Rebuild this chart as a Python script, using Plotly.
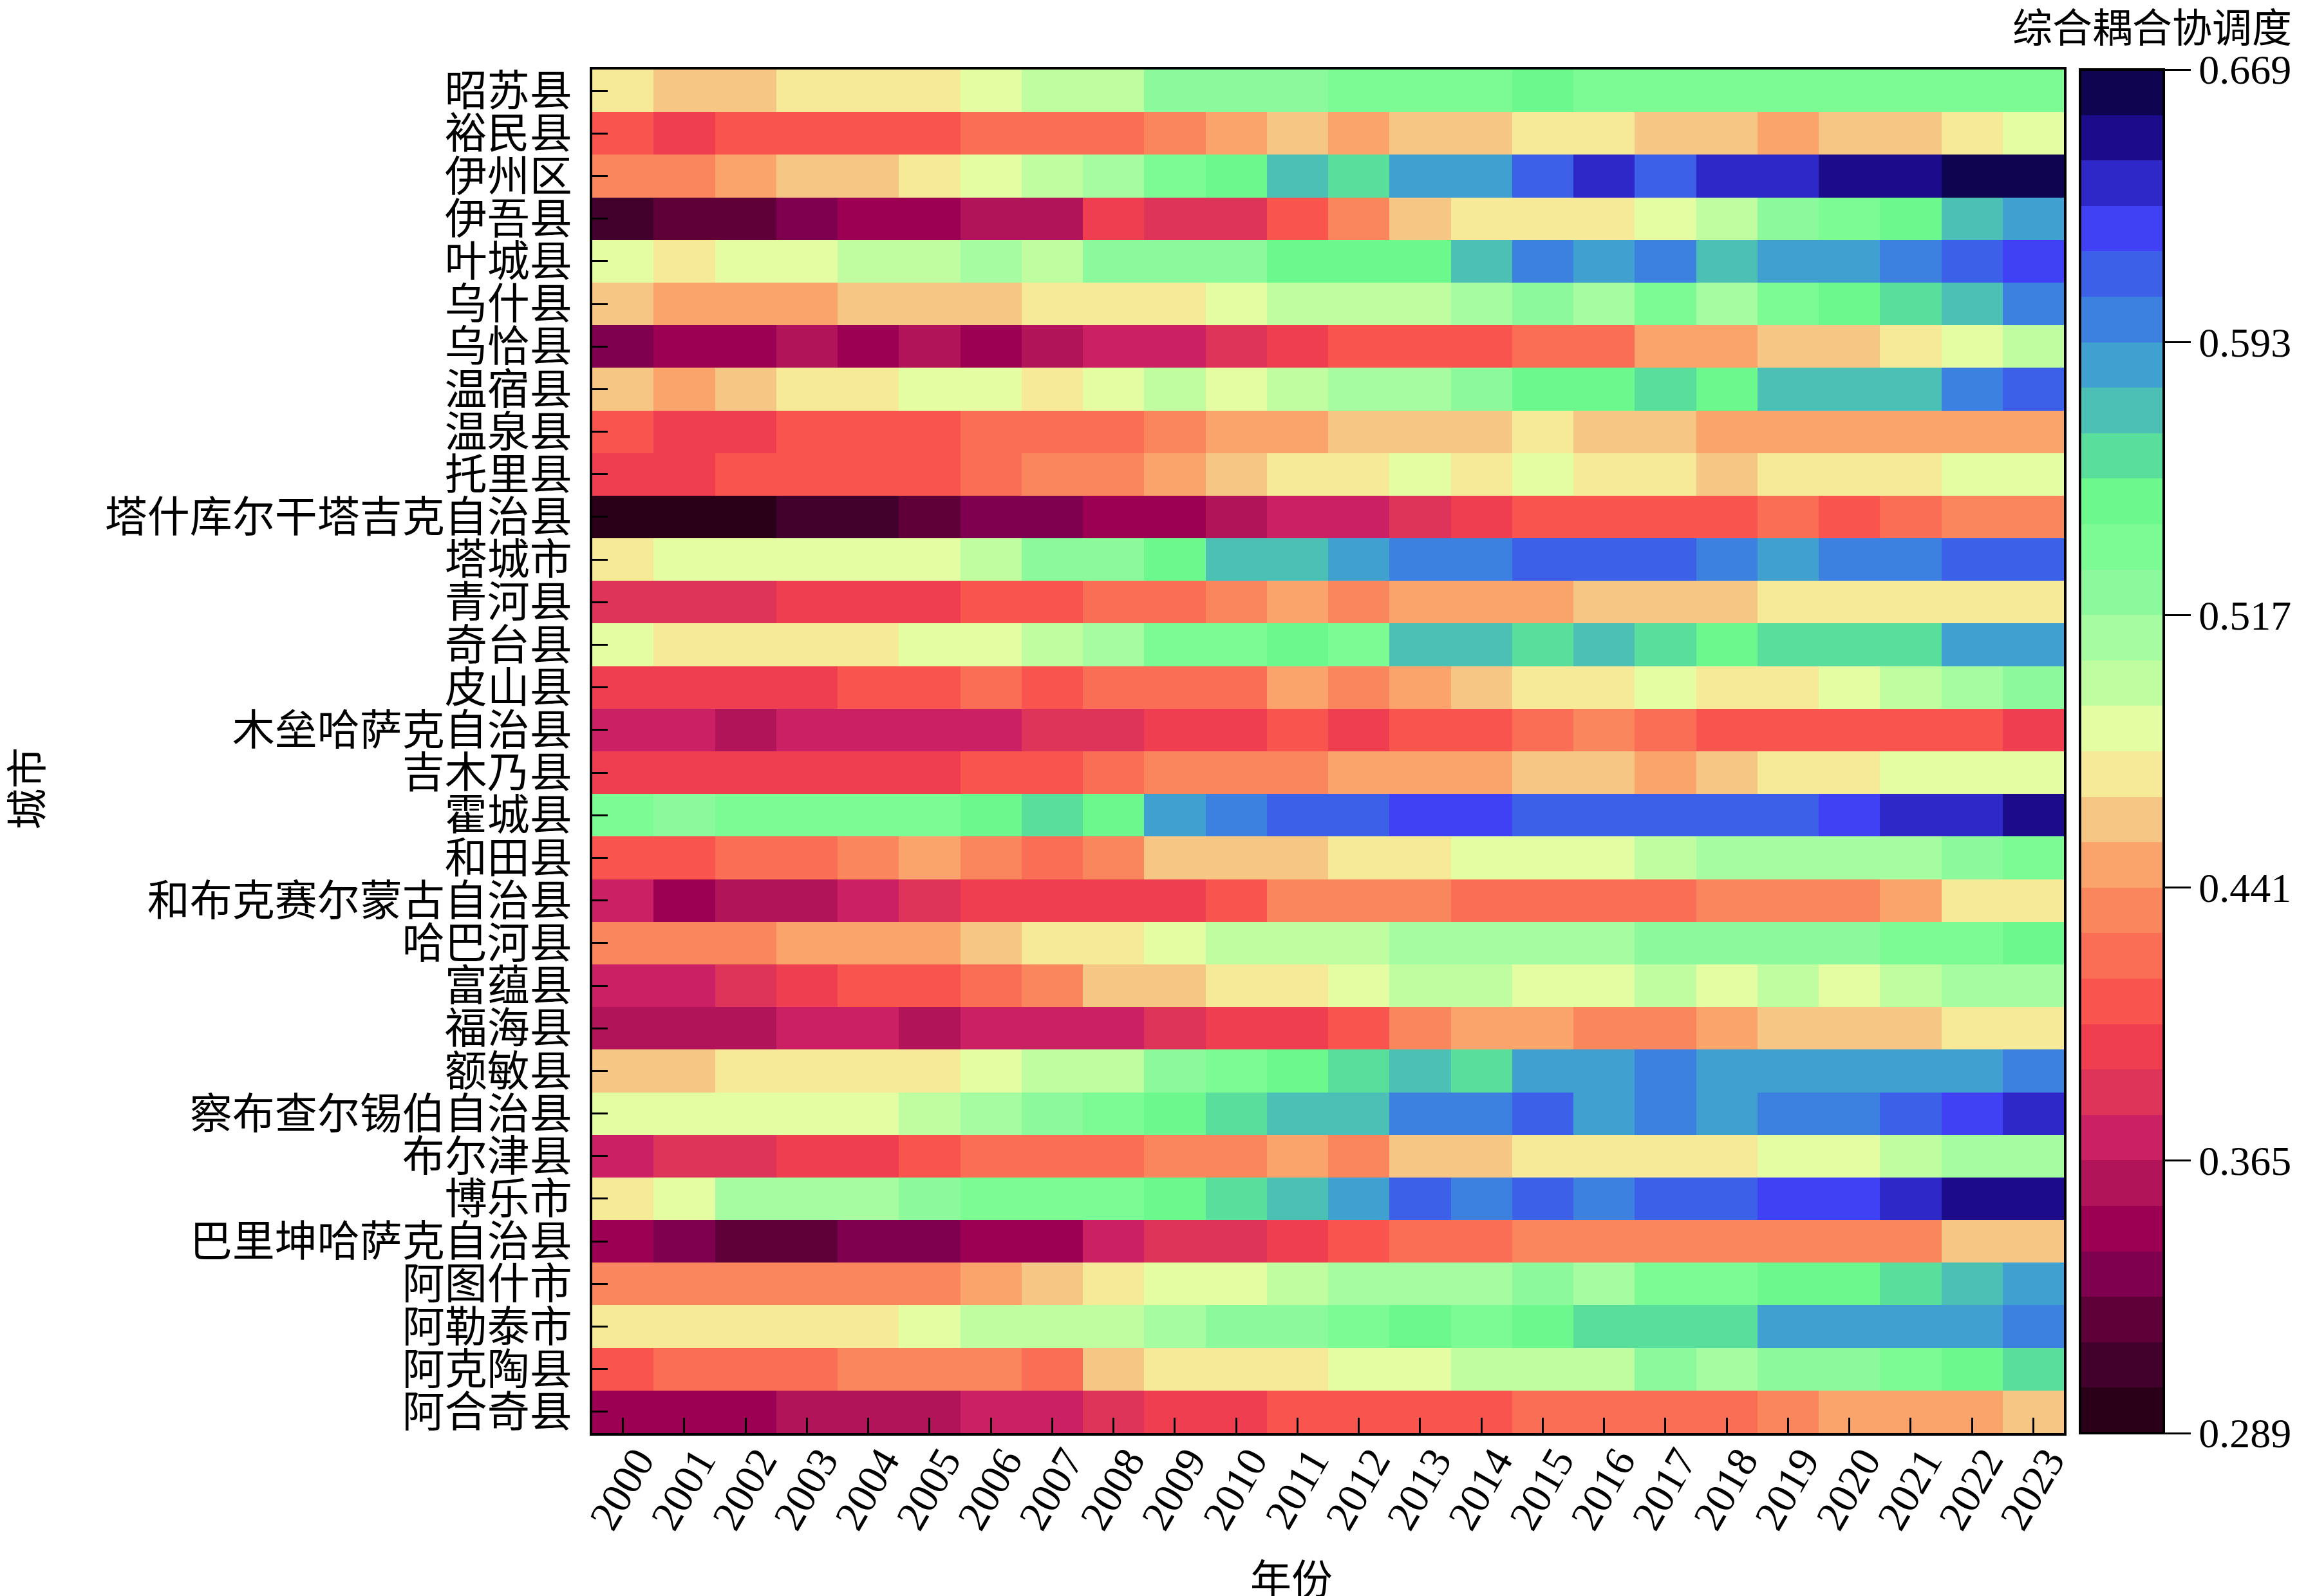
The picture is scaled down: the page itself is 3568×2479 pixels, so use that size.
import plotly.graph_objects as go

# 年份与城市
years = [str(y) for y in range(2000, 2024)]
cities = ["昭苏县", "裕民县", "伊州区", "伊吾县", "叶城县", "乌什县", "乌恰县", "温宿县",
          "温泉县", "托里县", "塔什库尔干塔吉克自治县", "塔城市", "青河县", "奇台县", "皮山县",
          "木垒哈萨克自治县", "吉木乃县", "霍城县", "和田县", "和布克赛尔蒙古自治县", "哈巴河县",
          "富蕴县", "福海县", "额敏县", "察布查尔锡伯自治县", "布尔津县", "博乐市",
          "巴里坤哈萨克自治县", "阿图什市", "阿勒泰市", "阿克陶县", "阿合奇县"]

# 综合耦合协调度 (按城市顺序, 每行 2000-2023)
coupling = [
    [0.473, 0.460, 0.460, 0.473, 0.473, 0.473, 0.485, 0.498, 0.498, 0.523, 0.523, 0.523, 0.536, 0.536, 0.536, 0.549, 0.536, 0.536, 0.536, 0.536, 0.536, 0.536, 0.536, 0.536],  # 昭苏县
    [0.409, 0.397, 0.409, 0.409, 0.409, 0.409, 0.422, 0.422, 0.422, 0.435, 0.447, 0.460, 0.447, 0.460, 0.460, 0.473, 0.473, 0.460, 0.460, 0.447, 0.460, 0.460, 0.473, 0.485],  # 裕民县
    [0.435, 0.435, 0.447, 0.460, 0.460, 0.473, 0.485, 0.498, 0.511, 0.536, 0.549, 0.574, 0.561, 0.587, 0.587, 0.612, 0.637, 0.612, 0.637, 0.637, 0.650, 0.650, 0.663, 0.669],  # 伊州区
    [0.308, 0.321, 0.321, 0.333, 0.346, 0.346, 0.359, 0.359, 0.397, 0.384, 0.384, 0.409, 0.435, 0.460, 0.473, 0.473, 0.473, 0.485, 0.498, 0.523, 0.536, 0.549, 0.574, 0.587],  # 伊吾县
    [0.485, 0.473, 0.485, 0.485, 0.498, 0.498, 0.511, 0.498, 0.523, 0.523, 0.523, 0.549, 0.549, 0.549, 0.574, 0.599, 0.587, 0.599, 0.574, 0.587, 0.587, 0.599, 0.612, 0.625],  # 叶城县
    [0.460, 0.447, 0.447, 0.447, 0.460, 0.460, 0.460, 0.473, 0.473, 0.473, 0.485, 0.498, 0.498, 0.498, 0.511, 0.523, 0.511, 0.536, 0.511, 0.536, 0.549, 0.561, 0.574, 0.599],  # 乌什县
    [0.333, 0.346, 0.346, 0.359, 0.346, 0.359, 0.346, 0.359, 0.371, 0.371, 0.384, 0.397, 0.409, 0.409, 0.409, 0.422, 0.422, 0.447, 0.447, 0.460, 0.460, 0.473, 0.485, 0.498],  # 乌恰县
    [0.460, 0.447, 0.460, 0.473, 0.473, 0.485, 0.485, 0.473, 0.485, 0.498, 0.485, 0.498, 0.511, 0.511, 0.523, 0.549, 0.549, 0.561, 0.549, 0.574, 0.574, 0.574, 0.599, 0.612],  # 温宿县
    [0.409, 0.397, 0.397, 0.409, 0.409, 0.409, 0.422, 0.422, 0.422, 0.435, 0.447, 0.447, 0.460, 0.460, 0.460, 0.473, 0.460, 0.460, 0.447, 0.447, 0.447, 0.447, 0.447, 0.447],  # 温泉县
    [0.397, 0.397, 0.409, 0.409, 0.409, 0.409, 0.422, 0.435, 0.435, 0.447, 0.460, 0.473, 0.473, 0.485, 0.473, 0.485, 0.473, 0.473, 0.460, 0.473, 0.473, 0.473, 0.485, 0.485],  # 托里县
    [0.289, 0.292, 0.295, 0.308, 0.308, 0.321, 0.333, 0.333, 0.346, 0.346, 0.359, 0.371, 0.371, 0.384, 0.397, 0.409, 0.409, 0.409, 0.409, 0.422, 0.409, 0.422, 0.435, 0.435],  # 塔什库尔干塔吉克自治县
    [0.473, 0.485, 0.485, 0.485, 0.485, 0.485, 0.498, 0.523, 0.523, 0.549, 0.574, 0.574, 0.587, 0.599, 0.599, 0.612, 0.612, 0.612, 0.599, 0.587, 0.599, 0.599, 0.612, 0.612],  # 塔城市
    [0.384, 0.384, 0.384, 0.397, 0.397, 0.397, 0.409, 0.409, 0.422, 0.422, 0.435, 0.447, 0.435, 0.447, 0.447, 0.447, 0.460, 0.460, 0.460, 0.473, 0.473, 0.473, 0.473, 0.473],  # 青河县
    [0.485, 0.473, 0.473, 0.473, 0.473, 0.485, 0.485, 0.498, 0.511, 0.536, 0.536, 0.549, 0.536, 0.574, 0.574, 0.561, 0.574, 0.561, 0.549, 0.561, 0.561, 0.561, 0.587, 0.587],  # 奇台县
    [0.397, 0.397, 0.397, 0.397, 0.409, 0.409, 0.422, 0.409, 0.422, 0.422, 0.422, 0.447, 0.435, 0.447, 0.460, 0.473, 0.473, 0.485, 0.473, 0.473, 0.485, 0.498, 0.511, 0.523],  # 皮山县
    [0.371, 0.371, 0.359, 0.371, 0.371, 0.371, 0.371, 0.384, 0.384, 0.397, 0.397, 0.409, 0.397, 0.409, 0.409, 0.422, 0.435, 0.422, 0.409, 0.409, 0.409, 0.409, 0.409, 0.397],  # 木垒哈萨克自治县
    [0.397, 0.397, 0.397, 0.397, 0.397, 0.397, 0.409, 0.409, 0.422, 0.435, 0.435, 0.435, 0.447, 0.447, 0.447, 0.460, 0.460, 0.447, 0.460, 0.473, 0.473, 0.485, 0.485, 0.485],  # 吉木乃县
    [0.536, 0.523, 0.536, 0.536, 0.536, 0.536, 0.549, 0.561, 0.549, 0.587, 0.599, 0.612, 0.612, 0.625, 0.625, 0.612, 0.612, 0.612, 0.612, 0.612, 0.625, 0.637, 0.637, 0.650],  # 霍城县
    [0.409, 0.409, 0.422, 0.422, 0.435, 0.447, 0.435, 0.422, 0.435, 0.460, 0.460, 0.460, 0.473, 0.473, 0.485, 0.485, 0.485, 0.498, 0.511, 0.511, 0.511, 0.511, 0.523, 0.536],  # 和田县
    [0.371, 0.346, 0.359, 0.359, 0.371, 0.384, 0.397, 0.397, 0.397, 0.397, 0.409, 0.435, 0.435, 0.435, 0.422, 0.422, 0.422, 0.422, 0.435, 0.435, 0.435, 0.447, 0.473, 0.473],  # 和布克赛尔蒙古自治县
    [0.435, 0.435, 0.435, 0.447, 0.447, 0.447, 0.460, 0.473, 0.473, 0.485, 0.498, 0.498, 0.498, 0.511, 0.511, 0.511, 0.511, 0.523, 0.523, 0.523, 0.523, 0.536, 0.536, 0.549],  # 哈巴河县
    [0.371, 0.371, 0.384, 0.397, 0.409, 0.409, 0.422, 0.435, 0.460, 0.460, 0.473, 0.473, 0.485, 0.498, 0.498, 0.485, 0.485, 0.498, 0.485, 0.498, 0.485, 0.498, 0.511, 0.511],  # 富蕴县
    [0.359, 0.359, 0.359, 0.371, 0.371, 0.359, 0.371, 0.371, 0.371, 0.384, 0.397, 0.397, 0.409, 0.435, 0.447, 0.447, 0.435, 0.435, 0.447, 0.460, 0.460, 0.460, 0.473, 0.473],  # 福海县
    [0.460, 0.460, 0.473, 0.473, 0.473, 0.473, 0.485, 0.498, 0.498, 0.523, 0.536, 0.549, 0.561, 0.574, 0.561, 0.587, 0.587, 0.599, 0.587, 0.587, 0.587, 0.587, 0.587, 0.599],  # 额敏县
    [0.485, 0.485, 0.485, 0.485, 0.485, 0.498, 0.511, 0.523, 0.536, 0.549, 0.561, 0.574, 0.574, 0.599, 0.599, 0.612, 0.587, 0.599, 0.587, 0.599, 0.599, 0.612, 0.625, 0.637],  # 察布查尔锡伯自治县
    [0.371, 0.384, 0.384, 0.397, 0.397, 0.409, 0.422, 0.422, 0.422, 0.435, 0.435, 0.447, 0.435, 0.460, 0.460, 0.473, 0.473, 0.473, 0.473, 0.485, 0.485, 0.498, 0.511, 0.511],  # 布尔津县
    [0.473, 0.485, 0.511, 0.511, 0.511, 0.523, 0.536, 0.536, 0.536, 0.549, 0.561, 0.574, 0.587, 0.612, 0.599, 0.612, 0.599, 0.612, 0.612, 0.625, 0.625, 0.637, 0.650, 0.650],  # 博乐市
    [0.346, 0.333, 0.321, 0.321, 0.333, 0.333, 0.346, 0.346, 0.371, 0.384, 0.384, 0.397, 0.409, 0.422, 0.422, 0.435, 0.435, 0.435, 0.435, 0.435, 0.435, 0.435, 0.460, 0.460],  # 巴里坤哈萨克自治县
    [0.435, 0.435, 0.435, 0.435, 0.435, 0.435, 0.447, 0.460, 0.473, 0.485, 0.485, 0.498, 0.511, 0.511, 0.511, 0.523, 0.511, 0.536, 0.536, 0.549, 0.549, 0.561, 0.574, 0.587],  # 阿图什市
    [0.473, 0.473, 0.473, 0.473, 0.473, 0.485, 0.498, 0.498, 0.498, 0.511, 0.523, 0.523, 0.536, 0.549, 0.536, 0.549, 0.561, 0.561, 0.561, 0.587, 0.587, 0.587, 0.587, 0.599],  # 阿勒泰市
    [0.409, 0.422, 0.422, 0.422, 0.435, 0.435, 0.435, 0.422, 0.460, 0.473, 0.473, 0.473, 0.485, 0.485, 0.498, 0.498, 0.498, 0.523, 0.511, 0.523, 0.523, 0.536, 0.549, 0.561],  # 阿克陶县
    [0.346, 0.346, 0.346, 0.359, 0.359, 0.359, 0.371, 0.371, 0.384, 0.397, 0.397, 0.409, 0.409, 0.409, 0.409, 0.422, 0.422, 0.422, 0.422, 0.435, 0.447, 0.447, 0.447, 0.460],  # 阿合奇县
]

# 色带刻度
zmin, zmax = 0.289, 0.669
cbar_ticks = [0.289, 0.365, 0.441, 0.517, 0.593, 0.669]

# 30 级离散色带 (低 -> 高)
palette = ["#2a0018", "#42002c", "#600038", "#800050", "#9c0052", "#b2145a",
           "#cc2064", "#de345a", "#ee3e50", "#fa544e", "#fa6e56", "#fa865e",
           "#faa46c", "#f6c684", "#f6ea98", "#e4fca2", "#c0fca0", "#a6fca0",
           "#8cfa9c", "#7cfa94", "#6cf88c", "#5ade9c", "#4cc0b4", "#40a0d0",
           "#3c80e0", "#3c60e8", "#4040f4", "#2e28c8", "#1c0c8c", "#0e0450"]
n = len(palette)
colorscale = []
for i, c in enumerate(palette):
    colorscale.append([i / n, c])
    colorscale.append([(i + 1) / n, c])

FONT = "Liberation Serif, Noto Sans CJK SC"

fig = go.Figure(go.Heatmap(
    z=coupling, x=years, y=cities,
    zmin=zmin, zmax=zmax, colorscale=colorscale,
    colorbar=dict(
        x=1.0109, xanchor="left", xpad=0,
        y=0.5, yanchor="middle", len=1, ypad=0,
        thickness=130, outlinewidth=4, outlinecolor="black",
        tickvals=cbar_ticks, ticktext=[f"{t:.3f}" for t in cbar_ticks],
        ticks="outside", ticklen=40, tickwidth=3, tickcolor="black",
        tickfont=dict(family=FONT, size=64, color="black"),
    ),
))

fig.update_layout(
    width=3568, height=2479,
    margin=dict(l=912, r=370, t=100, b=261, pad=0, autoexpand=False),
    paper_bgcolor="white", plot_bgcolor="white",
    font=dict(family=FONT, size=64, color="black"),
    xaxis=dict(type="category", tickmode="array", tickvals=years, ticktext=years,
               tickangle=-60, ticks="inside", ticklen=24,
               tickwidth=3, tickcolor="black", showline=True, mirror=True,
               linewidth=4, linecolor="black", ticklabelshift=22,
               ticklabelstandoff=-26, tickfont=dict(family=FONT, size=66)),
    yaxis=dict(type="category", tickmode="array", tickvals=cities, ticktext=cities,
               autorange="reversed", ticks="inside", ticklen=24,
               tickwidth=3, tickcolor="black", showline=True, mirror=True,
               linewidth=4, linecolor="black", ticklabelstandoff=14,
               tickfont=dict(family=FONT, size=66)),
    annotations=[
        dict(text="综合耦合协调度", xref="paper", yref="paper", x=1.1557, y=1.0297,
             xanchor="right", yanchor="middle", showarrow=False,
             font=dict(family=FONT, size=62)),
        dict(text="年份", xref="paper", yref="paper", x=0.475, y=-0.108,
             xanchor="center", yanchor="middle", showarrow=False,
             font=dict(family=FONT, size=64)),
        dict(text="城市", xref="paper", yref="paper", x=-0.3838, y=0.4726,
             xanchor="center", yanchor="middle", showarrow=False, textangle=-90,
             font=dict(family=FONT, size=64)),
    ],
)

fig.write_html("out.html")
